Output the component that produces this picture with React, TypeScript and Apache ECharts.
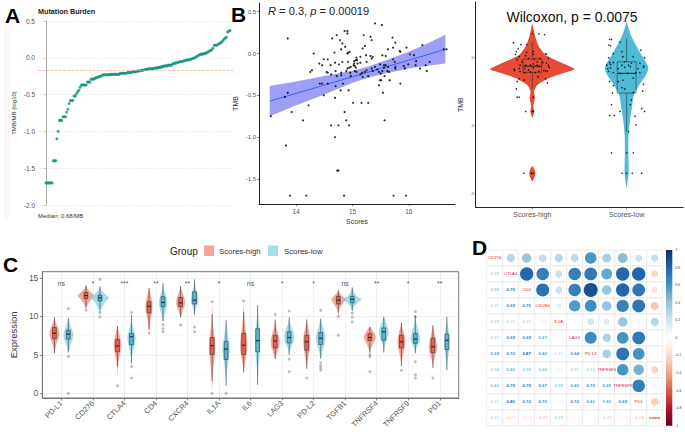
import React, { useEffect, useRef } from "react";
import * as echarts from "echarts";

const FONT = "Liberation Sans";

// ---------- Panel A ----------
const burdenValues = [
  -1.7,-1.7,-1.7,-1.7,-1.7,-1.7,-1.4,-1.4,-1.4,-1.1,-1.0,-0.85,-0.85,-0.85,-0.8,-0.8,-0.8,-0.74,-0.7,-0.62,
  -0.58,-0.58,-0.58,-0.52,-0.52,-0.49,-0.46,-0.44,-0.4,-0.37,-0.37,-0.37,-0.37,-0.37,-0.33,-0.33,-0.33,-0.29,-0.29,-0.29,
  -0.28,-0.27,-0.27,-0.26,-0.25,-0.25,-0.24,-0.23,-0.23,-0.23,-0.23,-0.23,-0.23,-0.225,-0.225,-0.225,-0.225,-0.225,-0.225,-0.225,
  -0.225,-0.21,-0.21,-0.21,-0.21,-0.21,-0.21,-0.2,-0.2,-0.2,-0.2,-0.19,-0.19,-0.19,-0.19,-0.18,-0.18,-0.18,-0.17,-0.17,
  -0.17,-0.16,-0.16,-0.16,-0.15,-0.15,-0.15,-0.15,-0.15,-0.14,-0.14,-0.14,-0.13,-0.13,-0.13,-0.12,-0.12,-0.11,-0.11,-0.11,
  -0.1,-0.1,-0.1,-0.1,-0.08,-0.08,-0.07,-0.07,-0.06,-0.06,-0.05,-0.05,-0.05,-0.04,-0.04,-0.03,-0.03,-0.03,-0.02,-0.02,
  -0.01,-0.01,0,0.01,0.02,0.03,0.04,0.05,0.05,0.05,0.06,0.06,0.07,0.08,0.09,0.1,0.11,0.13,0.17,0.17,
  0.17,0.18,0.19,0.2,0.21,0.23,0.25,0.27,0.28,0.35,0.36,0.37,
];
const burdenMedian = -0.17;

// ---------- Panel B ----------
const scorePoints = [
  [15.4,.36],[15.52,.34],[14.86,.27],[14.91,.27],[14.91,.24],[14.72,.22],[15.2,.22],[15.32,.2],[13.85,.18],[14.64,.18],
  [14.78,.16],[15.71,.19],[15.34,.16],[14.82,.12],[15.76,.13],[14.87,.08],[14.8,.05],[15.22,.09],[16.24,.1],[15.96,.07],
  [15.18,.06],[14.68,.01],[14.31,0],[14.91,0],[14.95,.02],[14.92,.01],[15.72,.07],[15.63,.05],[15.53,-.02],[15.59,-.03],
  [15.32,-.03],[15.84,.03],[15.85,.02],[15.24,-.02],[16.02,-.01],[16.09,-.02],[15.36,-.04],[15.34,-.06],[15.14,-.04],[15.07,-.05],
  [15.06,-.08],[15.03,-.09],[15.08,-.08],[14.49,-.07],[14.56,-.07],[14.82,-.1],[14.92,-.1],[14.69,-.11],[14.41,-.12],[14.46,-.14],
  [14.61,-.14],[14.76,-.13],[15.25,-.1],[15.14,-.11],[15.09,-.12],[15.03,-.12],[15.02,-.14],[15.04,-.15],[15.06,-.17],[14.94,-.17],
  [14.97,-.16],[14.91,-.18],[15.59,-.14],[15.56,-.14],[15.75,-.1],[15.72,-.07],[15.99,-.13],[16.13,-.09],[16.12,-.14],[16.37,-.1],
  [16.3,-.14],[16.2,-.18],[16.32,-.21],[15.93,-.18],[15.91,-.15],[15.76,-.16],[15.76,-.18],[15.63,-.16],[15.56,-.17],[15.49,-.13],
  [15.34,-.18],[15.4,-.16],[15.44,-.19],[15.25,-.2],[15.36,-.21],[15.53,-.21],[15.47,-.22],[15.5,-.24],[15.62,-.21],[15.65,-.22],
  [15.17,-.23],[15.22,-.22],[15.07,-.22],[15.04,-.21],[14.89,-.21],[14.8,-.23],[14.7,-.21],[14.54,-.22],[14.56,-.23],[14.28,-.2],
  [14.25,-.22],[14.62,-.25],[14.8,-.26],[14.96,-.23],[14.97,-.27],[14.72,-.27],[15.14,-.25],[15.18,-.28],[15.28,-.27],[15.57,-.27],
  [15.66,-.32],[15.49,-.32],[15.51,-.32],[15.47,-.38],[15.85,-.36],[15.54,-.47],[14.42,-.36],[14.46,-.36],[14.56,-.36],[14.83,-.36],
  [14.7,-.39],[14.49,-.5],[14.79,-.44],[14.93,-.44],[14.69,-.53],[13.85,-.47],[13.8,-.52],[13.55,-.75],[13.92,-.7],[14.22,-.62],
  [15.01,-.59],[15.16,-.59],[15.28,-.59],[14.86,-.7],[14.12,-.8],[14.89,-.8],[14.62,-.86],[14.75,-.86],[14.94,-.86],[15.57,-.8],
  [14.69,-1],[13.82,-1.1],[14.73,-1.4],[14.75,-1.4],[13.89,-1.7],[14.18,-1.7],[14.85,-1.7],[15.73,-1.7],[15.95,-1.7],[16.62,.05],[16.67,.05],
];
const fitX = [13.53, 14, 14.5, 15, 15.25, 15.5, 16, 16.3, 16.65];
const fitLine = [-0.57, -0.477, -0.378, -0.278, -0.229, -0.179, -0.08, -0.02, 0.05];
const fitUpper = [-0.39, -0.335, -0.27, -0.205, -0.16, -0.105, 0.02, 0.11, 0.225];
const fitLower = [-0.75, -0.62, -0.49, -0.35, -0.295, -0.25, -0.18, -0.15, -0.12];
const scoreTicks = [14, 15, 16];
const tmbTicks = [-1.5, -1, -0.5, 0, 0.5];

// ---------- Wilcoxon panel ----------
const wilcoxGroups = ["Scores-high", "Scores-low"];
const wilcoxHighDensity = [[.5,0],[.33,.028],[.185,.063],[.04,.14],[-.01,.21],[-.11,.37],[-.17,.447],[-.23,.317],[-.3,.176],[-.4,.053],[-.5,.018],[-.59,.028],[-.72,.011],[-.79,.021],[-.89,0]];
const wilcoxLowDensity = [[.525,0],[.33,.046],[.185,.099],[.04,.158],[-.11,.222],[-.18,.229],[-.28,.194],[-.4,.134],[-.55,.077],[-.74,.056],[-.93,.035],[-1.13,.021],[-1.37,.018],[-1.7,.021],[-1.93,0]];
const wilcoxHighBlob = [[-1.59,0],[-1.65,.025],[-1.7,.032],[-1.75,.025],[-1.82,0]];
const wilcoxBoxes = [
  [-.215, -.125, -.02, -.46, .225],
  [-.52, -.23, -.06, -1.09, .28],
];
const wilcoxHighPoints = [
  [1,.355],[1.07,.35],[1.13,.34],[.8,.22],[.88,.195],[.94,.195],[.85,.13],[.83,.09],[.82,.05],[.94,.08],[1.01,.09],[1.14,.06],[1.01,.05],[1.15,.05],
  [.86,.015],[.93,.03],[.96,-.01],[1.02,-.02],[1.08,-.01],[1.05,-.06],[1.17,-.01],[.89,-.06],[.84,-.03],[.87,-.11],[.93,-.11],[.98,-.11],[1.01,-.09],
  [1.05,-.11],[1.11,-.07],[1.15,-.08],[1.17,-.11],[.81,-.17],[.86,-.16],[.92,-.16],[.96,-.18],[1.01,-.15],[1.07,-.13],[1.12,-.19],[1.18,-.14],[.81,-.19],
  [.87,-.2],[.92,-.22],[.98,-.21],[1.03,-.22],[1.07,-.2],[1.14,-.19],[1.16,-.2],[.86,-.31],[.91,-.33],[1.06,-.28],[1.14,-.31],[1.16,-.37],[.84,-.35],
  [.83,-.46],[.84,-.58],[.86,-.58],[1.01,-.58],[.93,-.79],[1,-.79],[1.01,-.79],[.91,-1.7],[.99,-1.7],[1.01,-1.7],
];
const wilcoxLowPoints = [
  [1.82,.27],[1.84,.27],[1.93,.23],[1.81,.185],[1.83,.175],[1.95,.09],[2.15,.11],[1.86,.06],[1.81,0],[1.96,.015],[2.07,.015],[2.19,0],[1.98,-.06],[1.82,-.07],
  [1.86,-.07],[1.79,-.11],[1.83,-.1],[1.95,-.11],[2.02,-.11],[2.05,-.08],[2.14,-.08],[2.18,-.12],[1.8,-.16],[1.83,-.15],[1.91,-.16],[1.98,-.14],[2.04,-.13],
  [2.12,-.16],[2.18,-.14],[1.81,-.2],[1.86,-.22],[1.93,-.23],[2.01,-.23],[2.1,-.22],[2.14,-.22],[1.82,-.35],[1.91,-.35],[1.96,-.33],[2.07,-.3],[2.18,-.39],
  [1.86,-.41],[1.95,-.44],[1.98,-.46],[2.17,-.49],[2.07,-.51],[1.85,-.52],[1.84,-.69],[2.16,-.75],[2.05,-.62],[2.04,-.69],[1.93,-.79],[2.19,-.79],[2.09,-.86],
  [1.82,-.85],[1.87,-.85],[2.1,-.99],[2.02,-1.09],[1.84,-1.4],[2,-1.4],[2.07,-1.4],[1.95,-1.7],[2,-1.7],[2.06,-1.7],[2.16,-1.7],
];
const wilcoxTicks = [0, -1, -2];

// ---------- Panel C ----------
const geneCategories = ["PD-L1","CD276","CTLA4","CD4","CXCR4","IL1A","IL6","LAG3","PD-L2","TGFB1","TNFRSF4","TNFRSF9","PD1"];
const geneSignificance = ["ns","*","***","**","**","*","ns","*","*","ns","**","*","**"];
const expressionTicks = [0, 5, 10, 15];
const expressionMinorLines = [2.5, 7.5, 12.5];
// each violin: [expression, half width]
const highViolins = [
  [[5.2,0],[6.2,.05],[7.2,.135],[7.8,.16],[8.5,.12],[9.2,.045],[9.9,0]],
  [[10.8,0],[11.5,.05],[12.2,.16],[12.7,.26],[13.2,.14],[13.6,.05],[14.05,0]],
  [[2,0],[3.5,.015],[4.7,.06],[6.2,.125],[7.2,.09],[8,.04],[8.8,0]],
  [[7.7,0],[9,.03],[10.2,.08],[11.2,.115],[12.1,.09],[13,.04],[13.75,0]],
  [[9.8,0],[10.6,.06],[11.3,.12],[11.8,.145],[12.4,.12],[13.2,.05],[13.9,0]],
  [[.5,0],[1.6,.015],[3.5,.045],[5,.09],[6.1,.105],[7.3,.08],[8.8,.03],[10.3,.012],[11.9,0]],
  [[2.7,0],[3.7,.03],[5,.09],[6.2,.115],[7.5,.09],[9,.04],[10.6,.012],[12,0]],
  [[4.45,0],[5.2,.06],[6,.12],[6.7,.145],[7.5,.11],[8.5,.04],[9.6,0]],
  [[3.2,0],[4.2,.03],[5.5,.085],[6.8,.115],[7.8,.09],[8.8,.03],[9.6,0]],
  [[9.9,0],[10.8,.03],[11.6,.14],[12.2,.225],[12.7,.12],[13.1,.04],[13.4,0]],
  [[4.75,0],[5.6,.02],[6.5,.11],[7.3,.19],[7.9,.13],[8.3,.07],[8.65,0]],
  [[3.5,0],[4.6,.03],[5.8,.1],[6.8,.125],[7.7,.09],[8.5,.04],[9.2,0]],
  [[3.3,0],[4.2,.03],[5.2,.1],[6.1,.135],[7.1,.085],[8,.04],[8.85,0]],
];
const lowViolins = [
  [[5,0],[6,.05],[7,.13],[7.7,.155],[8.5,.1],[9.2,.04],[10,0]],
  [[10.1,0],[11,.05],[11.9,.17],[12.4,.28],[12.9,.16],[13.4,.05],[13.9,0]],
  [[3.9,0],[4.8,.02],[6,.08],[7.2,.135],[8,.09],[9.2,.02],[10.2,0]],
  [[9,0],[9.8,.025],[10.8,.09],[11.8,.135],[12.7,.09],[13.5,.03],[14.3,0]],
  [[10.2,0],[11,.04],[11.7,.11],[12.1,.125],[12.9,.09],[13.8,.03],[14.8,0]],
  [[1,0],[2.4,.02],[3.8,.06],[5.6,.115],[7,.08],[8.3,.03],[9.5,0]],
  [[1.1,0],[3,.02],[5,.06],[6.8,.085],[8.4,.06],[10,.02],[11.45,0]],
  [[5,0],[5.8,.045],[6.6,.13],[7.3,.155],[8,.13],[9,.04],[9.9,0]],
  [[4.5,0],[5.4,.05],[6.3,.12],[7.2,.155],[8,.12],[9,.04],[9.7,0]],
  [[10.6,0],[11.2,.05],[11.8,.17],[12.2,.29],[12.6,.15],[13.2,.05],[13.75,0]],
  [[5.3,0],[6.2,.03],[7.1,.11],[8,.155],[8.7,.12],[9.4,.05],[9.95,0]],
  [[5.2,0],[5.9,.04],[6.6,.12],[7.1,.155],[7.9,.11],[9,.04],[10.15,0]],
  [[3,0],[4.2,.025],[5.6,.07],[6.9,.085],[8,.06],[9,.025],[9.95,0]],
];
// each box: [q1, median, q3, whisker low, whisker high]
const highBoxes = [
  [7.1,7.8,8.55,5.2,9.9],[12.3,12.7,13.1,11.2,14],[5.4,6.15,7,3.5,8.7],[10.45,11.3,11.9,8.3,13.7],[11.25,11.75,12.45,9.9,13.9],
  [5.05,6.2,7.25,1.6,10.3],[5.05,6.25,7.8,2.7,10.6],[5.9,6.8,7.55,4.45,9.6],[5.6,6.7,7.55,3.2,9.6],[11.6,12.1,12.6,10.4,13.4],
  [6.85,7.25,7.75,5.3,8.65],[5.9,6.7,7.55,3.5,9.2],[5.3,6.05,7.15,3.3,8.85],
];
const lowBoxes = [
  [7.05,7.7,8.2,5.4,9.7],[12,12.4,12.75,10.9,13.9],[6.3,7.35,7.8,3.9,10.2],[11.25,11.8,12.55,9.4,14.3],[11.6,12.1,13.2,10.2,14.8],
  [4.4,5.75,6.75,1,9.5],[5.4,6.85,8.4,1.1,11.45],[6.55,7.25,8,5,9.9],[6.35,7.15,7.9,4.5,9.7],[11.75,12.2,12.6,10.7,13.75],
  [6.9,8,8.5,5.3,9.95],[6.5,7.05,7.8,5.2,10.15],[5.7,6.9,7.7,3,9.95],
];
const highOutliers = [[],[10.8],[1],[7.8],[8.9],[11.9,0],[12],[10.25],[2],[10,7.55],[5,4.75,2.8],[3],[2]];
const lowOutliers = [[11,4.8,0],[14.8,10.5,9.9],[10.5,3.5,2],[8.9,8.4,8],[8.6,8],[0],[],[10.7,4.45,2.8],[10.8,4,3.6,3.3,3],[10.4,9.9,9.3],[],[10.6,9.95,4.1,2.4,2],[]];

// ---------- Panel D ----------
const corrLabels = ["CD276","CTLA4","CD4","CXCR4","IL1A","LAG3","PD-L2","TNFRSF4","TNFRSF9","PD1","score"];
const corrLower = [
  [],
  [.29],
  [.39,.79],
  [.25,.69,.75],
  [.29,.22,.22,.11],
  [.27,.69,.69,.57,.04],
  [.59,.72,.87,.62,.2,.64],
  [.34,.52,.39,.4,.15,.31,.33],
  [.43,.79,.79,.67,.39,.6,.73,.59],
  [.22,.8,.72,.73,.06,.72,.61,.48,.69],
  [.23,-.21,-.16,-.27,.29,-.04,-.03,-.23,-.06,-.24],
];
const rdBu = ["#67001F","#B2182B","#D6604D","#F4A582","#FDDBC7","#FFFFFF","#D1E5F0","#92C5DE","#4393C3","#2166AC","#053061"];

function corrColor(r: number) {
  const t = (Math.max(-1, Math.min(1, r)) + 1) * 5;
  const i = Math.min(9, Math.floor(t));
  const f = t - i;
  const a = rdBu[i], b = rdBu[i + 1];
  const ch = (s: string, k: number) => parseInt(s.slice(1 + k * 2, 3 + k * 2), 16);
  const m = (k: number) => Math.round(ch(a, k) + (ch(b, k) - ch(a, k)) * f);
  return `rgb(${m(0)},${m(1)},${m(2)})`;
}

function buildViolinSeries(profiles: number[][][], centers: number[], color: string, xi: number, yi: number, z = 2) {
  return {
    type: "custom", xAxisIndex: xi, yAxisIndex: yi, z, silent: true,
    data: profiles.map((_, i) => [centers[i], profiles[i][0][0]]),
    renderItem: (p: any, api: any) => {
      const prof = profiles[p.dataIndex];
      const cx = centers[p.dataIndex];
      const pts: number[][] = [];
      prof.forEach(([v, w]) => pts.push(api.coord([cx + w, v])));
      [...prof].reverse().forEach(([v, w]) => pts.push(api.coord([cx - w, v])));
      return { type: "polygon", shape: { points: pts, smooth: 0.25 }, style: { fill: color } };
    },
  };
}

function buildBoxSeries(boxes: number[][], centers: number[], fill: string, halfW: number, xi: number, yi: number, stroke: string, lw: number, z = 3) {
  return {
    type: "custom", xAxisIndex: xi, yAxisIndex: yi, z, silent: true,
    data: boxes.map((b, i) => [centers[i], b[1]]),
    renderItem: (p: any, api: any) => {
      const [q1, med, q3, lo, hi] = boxes[p.dataIndex];
      const cx = centers[p.dataIndex];
      const a = api.coord([cx - halfW, q3]);
      const b = api.coord([cx + halfW, q1]);
      const m1 = api.coord([cx - halfW, med]);
      const m2 = api.coord([cx + halfW, med]);
      const top = api.coord([cx, hi]);
      const t2 = api.coord([cx, q3]);
      const bot = api.coord([cx, lo]);
      const b2 = api.coord([cx, q1]);
      const line = { stroke, lineWidth: lw };
      return {
        type: "group",
        children: [
          { type: "line", shape: { x1: top[0], y1: top[1], x2: t2[0], y2: t2[1] }, style: line },
          { type: "line", shape: { x1: b2[0], y1: b2[1], x2: bot[0], y2: bot[1] }, style: line },
          { type: "rect", shape: { x: a[0], y: a[1], width: b[0] - a[0], height: b[1] - a[1] }, style: { fill, stroke, lineWidth: lw } },
          { type: "line", shape: { x1: m1[0], y1: m1[1], x2: m2[0], y2: m2[1] }, style: { stroke, lineWidth: lw * 2 } },
        ],
      };
    },
  };
}

export default function App() {
  const ref = useRef<HTMLDivElement>(null);
  useEffect(() => {
    const chart = echarts.init(ref.current!, undefined, { renderer: "svg" });
    const N = burdenValues.length - 1;
    const tickLabel = { fontFamily: FONT, color: "#555" };
    const catIdx = geneCategories.map((_, i) => i + 1);
    const highC = catIdx.map((v) => v - 0.217);
    const lowC = catIdx.map((v) => v + 0.225);
    const outliers = (o: number[][], c: number[]) => o.flatMap((vals, i) => vals.map((v) => [c[i], v]));

    const corrCells: number[][] = [];
    corrLabels.forEach((_, r) =>
      corrLabels.forEach((_, c) => {
        const v = r === c ? 1 : r > c ? corrLower[r][c] : corrLower[c][r];
        corrCells.push([c, r, v]);
      })
    );

    const option: any = {
      animation: false,
      backgroundColor: "#fff",
      textStyle: { fontFamily: FONT },
      grid: [
        { left: 38, top: 21, width: 195, height: 184 },
        { left: 259, top: 3, width: 196, height: 201 },
        { left: 475.7, top: 2, width: 207.5, height: 205.3 },
        { left: 33, top: 271.7, width: 425.7, height: 126.3, show: true, borderColor: "#777", borderWidth: 1, z: 5 },
        { left: 486.7, top: 250, width: 176, height: 175.7 },
        { left: 666, top: 250, width: 6.3, height: 175.7 },
      ],
      xAxis: [
        { gridIndex: 0, type: "value", show: false, min: (-8 * N) / 184, max: N + (3 * N) / 184 },
        {
          gridIndex: 1, type: "value", min: 13.34, max: 16.82, name: "Scores", nameLocation: "middle", nameGap: 14,
          nameTextStyle: { fontFamily: FONT, fontSize: 7, color: "#333" },
          axisLine: { onZero: false, lineStyle: { color: "#222", width: 1 } },
          axisTick: { customValues: scoreTicks, length: 2, lineStyle: { color: "#333", width: 0.6 } },
          axisLabel: { customValues: scoreTicks, fontSize: 6.5, margin: 4, ...tickLabel },
          splitLine: { show: false },
        },
        {
          gridIndex: 2, type: "value", min: 0.4, max: 2.6,
          axisLine: { onZero: false, lineStyle: { color: "#222", width: 1 } },
          axisTick: { customValues: [1, 2], length: 2, lineStyle: { color: "#333", width: 0.6 } },
          axisLabel: { customValues: [1, 2], formatter: (v: number) => wilcoxGroups[Math.round(v) - 1], fontSize: 7.2, margin: 4, ...tickLabel },
          splitLine: { show: false },
        },
        {
          gridIndex: 3, type: "value", min: 0.4, max: 13.6,
          axisLine: { onZero: false, lineStyle: { color: "#777", width: 1 } },
          axisTick: { customValues: catIdx, length: 2.5, lineStyle: { color: "#555", width: 0.7 } },
          axisLabel: {
            customValues: catIdx, formatter: (v: number) => geneCategories[Math.round(v) - 1],
            rotate: 45, fontSize: 7.5, margin: 4, ...tickLabel,
          },
          splitLine: { show: true, lineStyle: { color: "#ececec", width: 0.8 } },
        },
        { gridIndex: 4, type: "category", show: false, data: corrLabels },
        { gridIndex: 5, type: "value", show: false, min: 0, max: 1 },
      ],
      yAxis: [
        {
          gridIndex: 0, type: "value", min: -2, max: 0.5, interval: 0.5,
          name: "TMB/MB (log10)", nameLocation: "middle", nameGap: 21,
          nameTextStyle: { fontFamily: FONT, fontSize: 6, color: "#333" },
          axisLine: { show: true, lineStyle: { color: "#aaa", width: 1 } },
          axisTick: { show: true, length: 2, lineStyle: { color: "#aaa", width: 0.6 } },
          axisLabel: { fontSize: 6.5, margin: 3, formatter: (v: number) => v.toFixed(1), ...tickLabel },
          splitLine: { show: true, lineStyle: { color: "#e4e4e4", type: "dotted", width: 0.7 } },
        },
        {
          gridIndex: 1, type: "value", min: -1.8, max: 0.604, name: "TMB", nameLocation: "middle", nameGap: 20,
          nameTextStyle: { fontFamily: FONT, fontSize: 7, color: "#333" },
          axisLine: { show: true, onZero: false, lineStyle: { color: "#222", width: 1 } },
          axisTick: { show: true, customValues: tmbTicks, length: 2, lineStyle: { color: "#333", width: 0.6 } },
          axisLabel: { customValues: tmbTicks, fontSize: 6, margin: 3, formatter: (v: number) => v.toFixed(1), ...tickLabel },
          splitLine: { show: false },
        },
        {
          gridIndex: 2, type: "value", min: -2.2, max: 0.82, name: "TMB", nameLocation: "middle", nameGap: 12,
          nameTextStyle: { fontFamily: FONT, fontSize: 7, color: "#333" },
          axisLine: { show: true, onZero: false, lineStyle: { color: "#222", width: 1 } },
          axisTick: { show: true, customValues: wilcoxTicks, length: 1.5, lineStyle: { color: "#333", width: 0.6 } },
          axisLabel: { customValues: wilcoxTicks, fontSize: 4, margin: 2, ...tickLabel },
          splitLine: { show: false },
        },
        {
          gridIndex: 3, type: "value", min: -0.6, max: 15.8, name: "Expression", nameLocation: "middle", nameGap: 21,
          nameTextStyle: { fontFamily: FONT, fontSize: 9.5, color: "#333" },
          axisLine: { show: true, onZero: false, lineStyle: { color: "#777", width: 1 } },
          axisTick: { show: true, customValues: expressionTicks, length: 2.5, lineStyle: { color: "#555", width: 0.7 } },
          axisLabel: { customValues: expressionTicks, fontSize: 8.5, margin: 4, ...tickLabel },
          splitLine: { show: true, lineStyle: { color: "#ececec", width: 0.8 } },
        },
        { gridIndex: 4, type: "category", show: false, inverse: true, data: corrLabels },
        {
          gridIndex: 5, type: "value", min: -1, max: 1, interval: 0.2, position: "right",
          axisLine: { show: false }, axisTick: { show: true, length: 1.5, lineStyle: { color: "#888", width: 0.4 } },
          axisLabel: { fontSize: 3.5, margin: 3, color: "#444", fontFamily: FONT, formatter: (v: number) => String(Math.round(v * 10) / 10) },
          splitLine: { show: false },
        },
      ],
      series: [
        // A
        {
          type: "scatter", xAxisIndex: 0, yAxisIndex: 0, symbolSize: 3, silent: true,
          itemStyle: { color: "#0E9480" },
          data: burdenValues.map((v, i) => [i, v]),
          markLine: {
            silent: true, symbol: "none", label: { show: false },
            lineStyle: { color: "#F2A58F", type: "dashed", width: 0.7 },
            data: [{ yAxis: burdenMedian }],
          },
        },
        // B ribbon, fit, points
        {
          type: "custom", xAxisIndex: 1, yAxisIndex: 1, z: 2, silent: true,
          data: fitX.map((x, i) => [x, fitLower[i], fitUpper[i]]),
          renderItem: (p: any, api: any) => {
            if (p.dataIndex !== 0) return null;
            const up = fitX.map((x, i) => api.coord([x, fitUpper[i]]));
            const lo = fitX.map((x, i) => api.coord([x, fitLower[i]])).reverse();
            return { type: "polygon", shape: { points: [...up, ...lo] }, style: { fill: "#9E9EF6" } };
          },
        },
        {
          type: "line", xAxisIndex: 1, yAxisIndex: 1, z: 3, silent: true, symbol: "none",
          lineStyle: { color: "#3366FF", width: 1 },
          data: fitX.map((x, i) => [x, fitLine[i]]),
        },
        {
          type: "scatter", xAxisIndex: 1, yAxisIndex: 1, z: 4, symbolSize: 2.2, silent: true,
          itemStyle: { color: "#000" }, data: scorePoints,
        },
        // Wilcoxon
        buildViolinSeries([wilcoxHighDensity, wilcoxHighBlob], [1, 1], "#E64B35", 2, 2),
        buildViolinSeries([wilcoxLowDensity], [2], "#4DBBD5", 2, 2),
        buildBoxSeries(wilcoxBoxes, [1, 2], "rgba(0,0,0,0)", 0.1, 2, 2, "#333", 0.6),
        {
          type: "scatter", xAxisIndex: 2, yAxisIndex: 2, z: 4, symbolSize: 1.6, silent: true,
          itemStyle: { color: "#000" }, data: [...wilcoxHighPoints, ...wilcoxLowPoints],
        },
        // C
        buildViolinSeries(highViolins, highC, "rgba(235,115,100,0.62)", 3, 3),
        buildViolinSeries(lowViolins, lowC, "rgba(110,200,222,0.62)", 3, 3),
        { type: "scatter", xAxisIndex: 3, yAxisIndex: 3, z: 3, symbolSize: 3, silent: true, itemStyle: { color: "rgba(110,110,110,0.55)" }, data: outliers(highOutliers, highC) },
        { type: "scatter", xAxisIndex: 3, yAxisIndex: 3, z: 3, symbolSize: 3, silent: true, itemStyle: { color: "rgba(110,110,110,0.55)" }, data: outliers(lowOutliers, lowC) },
        buildBoxSeries(highBoxes, highC, "#E4634F", 0.06, 3, 3, "#3a2a28", 0.6, 4),
        buildBoxSeries(lowBoxes, lowC, "#5AB4CB", 0.06, 3, 3, "#1f3a42", 0.6, 4),
        {
          type: "scatter", xAxisIndex: 3, yAxisIndex: 3, z: 5, symbolSize: 0, silent: true,
          data: geneSignificance.map((s, i) => ({ value: [i + 1, 14.3], label: { formatter: s } })),
          label: { show: true, position: "inside", fontFamily: FONT, fontSize: 7, color: "#222" },
          markLine: {
            silent: true, symbol: "none", label: { show: false }, z: 1,
            lineStyle: { color: "#f5f5f5", type: "solid", width: 0.6 },
            data: expressionMinorLines.map((yAxis) => ({ yAxis })),
          },
        },
        // D: cell borders first, then circles and texts above them
        {
          type: "custom", xAxisIndex: 4, yAxisIndex: 4, silent: true, z: 2,
          data: corrCells,
          renderItem: (_p: any, api: any) => {
            const [x, y] = api.coord([api.value(0), api.value(1)]);
            const s = api.size([1, 1]);
            return {
              type: "rect",
              shape: { x: x - s[0] / 2, y: y - s[1] / 2, width: s[0], height: s[1] },
              style: { fill: "#fff", stroke: "#ececec", lineWidth: 1 },
            };
          },
        },
        {
          type: "custom", xAxisIndex: 4, yAxisIndex: 4, silent: true, z: 3,
          data: corrCells,
          renderItem: (_p: any, api: any) => {
            const c = api.value(0), r = api.value(1), v = api.value(2);
            const [x, y] = api.coord([c, r]);
            const s = api.size([1, 1]);
            if (r === c) {
              return { type: "text", style: { x, y, text: corrLabels[c], fontSize: 4.2, fontFamily: FONT, fill: "#D8232A", align: "center", verticalAlign: "middle", fontWeight: corrLabels[c] === "score" ? "bold" : "normal" } };
            }
            if (r > c) {
              return { type: "text", style: { x, y, text: v.toFixed(2), fontSize: 4.2, fontWeight: "bold", fontFamily: FONT, fill: corrColor(v), align: "center", verticalAlign: "middle" } };
            }
            return { type: "circle", shape: { cx: x, cy: y, r: 0.47 * s[0] * Math.sqrt(Math.abs(v)) }, style: { fill: corrColor(v) } };
          },
        },
        {
          type: "custom", xAxisIndex: 5, yAxisIndex: 5, silent: true,
          data: [[0, -1]],
          renderItem: (_p: any, api: any) => {
            const a = api.coord([0, 1]);
            const b = api.coord([1, -1]);
            return {
              type: "rect",
              shape: { x: a[0], y: a[1], width: b[0] - a[0], height: b[1] - a[1] },
              style: {
                fill: new echarts.graphic.LinearGradient(0, 1, 0, 0, rdBu.map((color, i) => ({ offset: i / 10, color }))),
              },
            };
          },
        },
      ],
      graphic: [
        { type: "rect", shape: { x: 4, y: 20, width: 6, height: 198 }, style: { fill: "#FBF7F9" }, silent: true },
        { type: "text", style: { x: 5, y: 26, text: "A", font: `bold 21px ${FONT}`, fill: "#000", textVerticalAlign: "bottom" } },
        { type: "text", style: { x: 231, y: 25, text: "B", font: `bold 21px ${FONT}`, fill: "#000", textVerticalAlign: "bottom" } },
        { type: "text", style: { x: 3, y: 275, text: "C", font: `bold 21px ${FONT}`, fill: "#000", textVerticalAlign: "bottom" } },
        { type: "text", style: { x: 472, y: 258, text: "D", font: `bold 21px ${FONT}`, fill: "#000", textVerticalAlign: "bottom" } },
        { type: "text", style: { x: 38, y: 11, text: "Mutation Burden", font: `bold 7.2px ${FONT}`, fill: "#222", textVerticalAlign: "middle" } },
        { type: "text", style: { x: 38, y: 216, text: "Median: 0.68/MB", font: `6px ${FONT}`, fill: "#333", textVerticalAlign: "middle" } },
        {
          type: "text",
          style: {
            x: 268, y: 11, text: "{i|R} = 0.3, {i|p} = 0.00019", font: `11.1px ${FONT}`, fill: "#222", textVerticalAlign: "middle",
            rich: { i: { fontStyle: "italic", fontSize: 11.1, fontFamily: FONT, fill: "#222" } },
          },
        },
        { type: "text", z: 10, style: { x: 572, y: 17, text: "Wilcoxon, p = 0.0075", font: `14px ${FONT}`, fill: "#111", textAlign: "center", textVerticalAlign: "middle" } },
        { type: "text", style: { x: 170, y: 251.5, text: "Group", font: `10px ${FONT}`, fill: "#222", textVerticalAlign: "middle" } },
        { type: "rect", shape: { x: 204, y: 245.5, width: 10, height: 10.5 }, style: { fill: "#F4A599" } },
        { type: "text", style: { x: 219, y: 251.5, text: "Scores-high", font: `7.8px ${FONT}`, fill: "#333", textVerticalAlign: "middle" } },
        { type: "rect", shape: { x: 268, y: 245.5, width: 10, height: 10.5 }, style: { fill: "#A6DEEA" } },
        { type: "text", style: { x: 284, y: 251.5, text: "Scores-low", font: `7.8px ${FONT}`, fill: "#333", textVerticalAlign: "middle" } },
      ],
    };
    chart.setOption(option);
    return () => chart.dispose();
  }, []);
  return <div ref={ref} style={{ position: "fixed", left: 0, top: 0, width: 685, height: 432 }} />;
}
